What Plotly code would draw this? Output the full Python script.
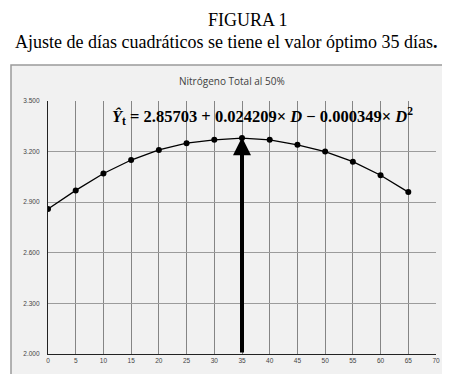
import plotly.graph_objects as go

dias = [0, 5, 10, 15, 20, 25, 30, 35, 40, 45, 50, 55, 60, 65]
nitrogeno = [2.86, 2.97, 3.07, 3.15, 3.21, 3.25, 3.27, 3.28, 3.27, 3.24, 3.20, 3.14, 3.06, 2.96]
x_ticks = list(range(0, 75, 5))
y_ticks = [2.0, 2.3, 2.6, 2.9, 3.2, 3.5]
y_labels = ["2.000", "2.300", "2.600", "2.900", "3.200", "3.500"]
optimo_x = 35
optimo_y = 3.285

L, R, T, B = 40, 22, 93, 28
W, H = 450, 374
pw, ph = W - L - R, H - T - B

def px(x):
    return (x - L) / pw

def py(y):
    return (H - B - y) / ph

BG = "#f1f1f1"
x_min, x_max = x_ticks[0], x_ticks[-1]
y_min, y_max = y_ticks[0], y_ticks[-1]

fig = go.Figure()
fig.add_trace(go.Scatter(
    x=dias, y=nitrogeno, mode="lines+markers",
    line=dict(color="black", width=1.3),
    marker=dict(color="black", size=6),
    showlegend=False, hoverinfo="skip",
))

white = dict(color="white", width=0)
shapes = [
    dict(type="rect", xref="paper", yref="paper", x0=px(-5), x1=px(455), y0=py(57), y1=py(-5),
         line=white, fillcolor="white", layer="below"),
    dict(type="rect", xref="paper", yref="paper", x0=px(-5), x1=px(3), y0=py(380), y1=py(57),
         line=white, fillcolor="white", layer="below"),
    dict(type="rect", xref="paper", yref="paper", x0=px(445), x1=px(455), y0=py(380), y1=py(57),
         line=white, fillcolor="white", layer="below"),
    dict(type="rect", xref="paper", yref="paper", x0=px(-5), x1=px(455), y0=py(380), y1=py(369),
         line=white, fillcolor="white", layer="below"),
    dict(type="rect", xref="paper", yref="paper",
         x0=px(3), x1=px(445), y0=py(369), y1=py(57),
         line=dict(color="#9a9a9a", width=1.5), fillcolor="rgba(0,0,0,0)", layer="above"),
]

fig.update_layout(
    width=W, height=H,
    margin=dict(l=L, r=R, t=T, b=B),
    paper_bgcolor=BG,
    plot_bgcolor="rgba(0,0,0,0)",
    xaxis=dict(range=[x_min, x_max], tickvals=x_ticks, ticktext=[str(v) for v in x_ticks],
               showgrid=True, gridcolor="#858585", gridwidth=1.3,
               showline=True, linecolor="#222", linewidth=1.3,
               zeroline=False, ticks="", tickfont=dict(size=6.5, color="#444", family="Liberation Sans"),
               fixedrange=True),
    yaxis=dict(range=[y_min, y_max], tickvals=y_ticks, ticktext=y_labels,
               showgrid=True, gridcolor="#9c9c9c", gridwidth=1.3,
               showline=True, linecolor="#222", linewidth=1.3,
               zeroline=False, ticks="", tickfont=dict(size=6.5, color="#444", family="Liberation Sans"),
               ticklabelstandoff=6, fixedrange=True),
    shapes=shapes,
    annotations=[
        dict(text="FIGURA 1", xref="paper", yref="paper", x=px(240), y=py(11.5),
             showarrow=False, font=dict(family="Liberation Serif", size=18, color="black"),
             xanchor="center", yanchor="middle"),
        dict(text="Ajuste de días cuadráticos se tiene el valor óptimo 35 días<b>.</b>",
             xref="paper", yref="paper", x=px(218), y=py(34),
             showarrow=False, font=dict(family="Liberation Serif", size=18, color="black"),
             xanchor="center", yanchor="middle"),
        dict(text="Nitrógeno Total al 50%", xref="paper", yref="paper", x=px(224), y=py(73),
             showarrow=False, font=dict(family="Open Sans", size=10, color="#404040"),
             xanchor="center", yanchor="middle"),
        dict(text="<b><i>Ŷ</i><sub>t</sub> = 2.85703 + 0.024209× <i>D</i> − 0.000349× <i>D</i><sup>2</sup></b>",
             xref="paper", yref="paper", x=px(102), y=py(108),
             showarrow=False, font=dict(family="Liberation Serif", size=16.5, color="black"),
             xanchor="left", yanchor="middle"),
        dict(x=optimo_x, y=optimo_y, ax=optimo_x, ay=y_min, xref="x", yref="y",
             axref="x", ayref="y", text="", showarrow=True,
             arrowhead=2, arrowsize=0.9, arrowwidth=4, arrowcolor="black"),
    ],
)

fig.write_html("out.html")
